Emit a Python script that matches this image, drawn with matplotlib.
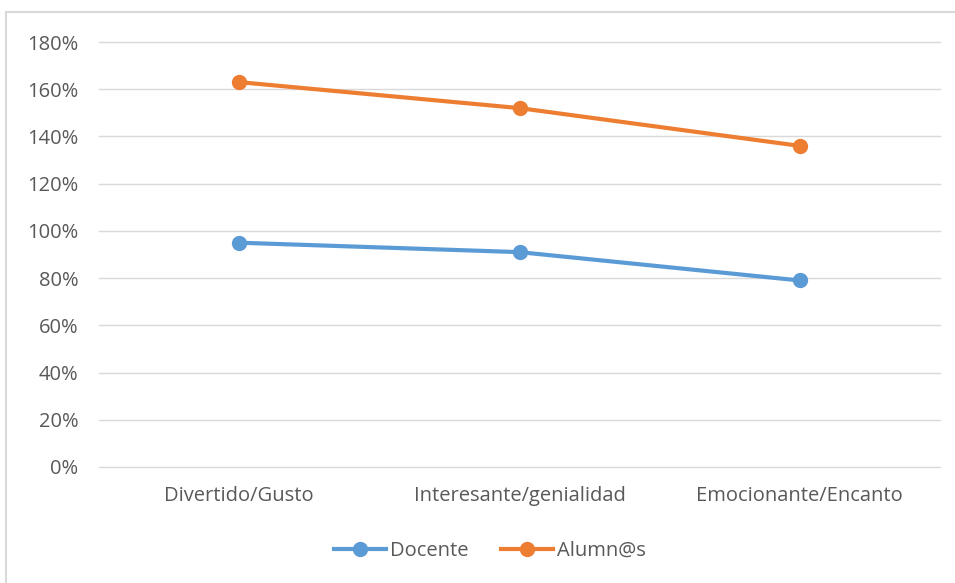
import numpy as np
import matplotlib.pyplot as plt
from matplotlib.patches import Rectangle
from matplotlib.ticker import PercentFormatter

categories = ["Divertido/Gusto", "Interesante/genialidad", "Emocionante/Encanto"]
docente = [95, 91, 79]
alumnos = [163, 152, 136]

plt.rcParams['font.family'] = ['Open Sans', 'DejaVu Sans']
text_color = '#595959'

fig = plt.figure(figsize=(9.55, 5.83), dpi=100)
ax = fig.add_axes([99/955, 1 - 467/583, 841/955, 425/583])

x = np.arange(len(categories))
ax.plot(x, docente, color='#5b9bd5', lw=3, marker='o', ms=10, label='Docente')
ax.plot(x, alumnos, color='#ed7d31', lw=3, marker='o', ms=10, label='Alumn@s')

ax.set_xlim(-0.5, 2.5)
ax.set_ylim(0, 180)
ax.set_yticks(np.arange(0, 181, 20))
ax.yaxis.set_major_formatter(PercentFormatter(decimals=0))
ax.set_xticks(x)
ax.set_xticklabels(categories)
ax.grid(axis='y', color='#d9d9d9', lw=1)
for gl in ax.get_ygridlines():
    gl.set_clip_on(False)
ax.set_axisbelow(True)
for s in ax.spines.values():
    s.set_visible(False)
ax.tick_params(length=0, labelsize=14.5, colors=text_color)
ax.tick_params(axis='y', pad=15)
ax.tick_params(axis='x', pad=14)

leg = ax.legend(loc='center', bbox_to_anchor=(490/955, 1 - 551/583),
                bbox_transform=fig.transFigure, ncol=2, frameon=False,
                fontsize=14.5, handlelength=2.6, columnspacing=1.6, handletextpad=0.2)
for t in leg.get_texts():
    t.set_color(text_color)

fig.patches.append(Rectangle((6/955, -0.05), 1.2, 1 - 12/583 + 0.05,
                             transform=fig.transFigure, fill=False,
                             edgecolor='#d9d9d9', lw=1.5))

fig.savefig('out.png', dpi=100)
